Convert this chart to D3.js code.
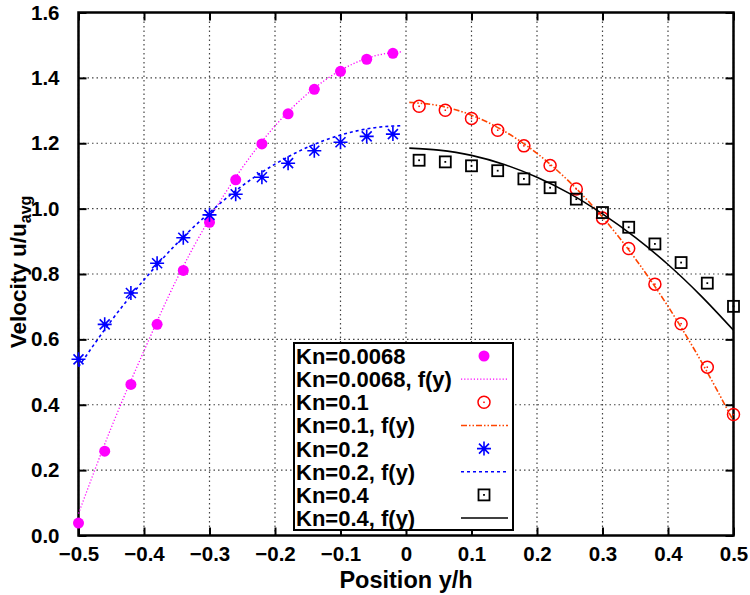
<!DOCTYPE html>
<html>
<head>
<meta charset="utf-8">
<script src="https://cdn.jsdelivr.net/npm/d3@7"></script>
<style>
  body { margin: 0; background: #fff; }
  text { font-family: "Liberation Sans", Arial, sans-serif; font-weight: bold; }
</style>
</head>
<body>
<div id="chart"></div>
<script>
// measured sample positions (y/h)
const leftPos  = [-0.50, -0.46, -0.42, -0.38, -0.34, -0.30, -0.26, -0.22, -0.18, -0.14, -0.10, -0.06, -0.02];
const rightPos = [0.02, 0.06, 0.10, 0.14, 0.18, 0.22, 0.26, 0.30, 0.34, 0.38, 0.42, 0.46, 0.50];

// measured velocities u/u_avg
const kn0068 = [0.038, 0.258, 0.462, 0.646, 0.811, 0.958, 1.088, 1.198, 1.290, 1.365, 1.420, 1.457, 1.475];
const kn02   = [0.539, 0.646, 0.742, 0.833, 0.911, 0.981, 1.044, 1.096, 1.139, 1.177, 1.203, 1.221, 1.228];
const kn01   = [1.313, 1.301, 1.276, 1.240, 1.192, 1.132, 1.060, 0.971, 0.878, 0.769, 0.648, 0.515, 0.370];
const kn04   = [1.148, 1.143, 1.131, 1.116, 1.091, 1.064, 1.029, 0.988, 0.943, 0.892, 0.835, 0.772, 0.701];

// fitted curves f(y)
const fitLeftPos  = [-0.5, -0.45, -0.4, -0.35, -0.3, -0.25, -0.2, -0.15, -0.1, -0.05, -0.005];
const fitRightPos = [0.005, 0.05, 0.1, 0.15, 0.2, 0.25, 0.3, 0.35, 0.4, 0.45, 0.5];
const fit0068 = [0.067, 0.33, 0.565, 0.784, 0.969, 1.125, 1.253, 1.352, 1.423, 1.466, 1.48];
const fit02   = [0.516, 0.657, 0.782, 0.893, 0.988, 1.07, 1.136, 1.188, 1.225, 1.247, 1.254];
const fit01   = [1.325, 1.315, 1.286, 1.237, 1.169, 1.081, 0.974, 0.847, 0.701, 0.535, 0.35];
const fit04   = [1.185, 1.179, 1.163, 1.135, 1.096, 1.046, 0.984, 0.912, 0.829, 0.734, 0.628];

const xTicks = [-0.5, -0.4, -0.3, -0.2, -0.1, 0, 0.1, 0.2, 0.3, 0.4, 0.5];
const yTicks = [0, 0.2, 0.4, 0.6, 0.8, 1.0, 1.2, 1.4, 1.6];
const legendLabels = ["Kn=0.0068", "Kn=0.0068, f(y)", "Kn=0.1", "Kn=0.1, f(y)",
                      "Kn=0.2", "Kn=0.2, f(y)", "Kn=0.4", "Kn=0.4, f(y)"];

const width = 750, height = 595;
const plotL = 78.5, plotR = 733.5, plotT = 12.5, plotB = 535.5;

const svg = d3.select("#chart").append("svg")
    .attr("width", width)
    .attr("height", height);

const x = d3.scaleLinear().domain([-0.5, 0.5]).range([plotL, plotR]);
const y = d3.scaleLinear().domain([0, 1.6]).range([plotB, plotT]);

// grid
const grid = svg.append("g").attr("stroke", "#444").attr("stroke-width", 1.2)
    .attr("stroke-dasharray", "1.5,3");
grid.selectAll(".gx").data(xTicks).enter().append("line")
    .attr("x1", d => x(d)).attr("x2", d => x(d))
    .attr("y1", plotT).attr("y2", plotB);
grid.selectAll(".gy").data(yTicks).enter().append("line")
    .attr("x1", plotL).attr("x2", plotR)
    .attr("y1", d => y(d)).attr("y2", d => y(d));

// axes (ticks pointing inward, mirrored)
const tickFmt = d => d === 0 ? "0" : d3.format(".1f")(d);
const axB = svg.append("g").attr("transform", `translate(0,${plotB})`)
    .call(d3.axisBottom(x).tickValues(xTicks).tickSizeInner(-8).tickSizeOuter(0).tickPadding(18).tickFormat(tickFmt));
const axT = svg.append("g").attr("transform", `translate(0,${plotT})`)
    .call(d3.axisTop(x).tickValues(xTicks).tickSizeInner(-8).tickSizeOuter(0).tickFormat(""));
const axL = svg.append("g").attr("transform", `translate(${plotL},0)`)
    .call(d3.axisLeft(y).tickValues(yTicks).tickSizeInner(-8).tickSizeOuter(0).tickPadding(19).tickFormat(d3.format(".1f")));
const axR = svg.append("g").attr("transform", `translate(${plotR},0)`)
    .call(d3.axisRight(y).tickValues(yTicks).tickSizeInner(-8).tickSizeOuter(0).tickFormat(""));

[axB, axT, axL, axR].forEach(a => {
    a.select(".domain").remove();
    a.selectAll(".tick line").attr("stroke", "#000").attr("stroke-width", 2);
    a.selectAll("text").attr("font-size", 20.5).attr("fill", "#000")
        .attr("font-family", "'Liberation Sans', Arial, sans-serif").attr("font-weight", "bold");
});
axB.selectAll("text").attr("dy", "0.35em");

svg.append("rect")
    .attr("x", plotL).attr("y", plotT)
    .attr("width", plotR - plotL).attr("height", plotB - plotT)
    .attr("fill", "none").attr("stroke", "#000").attr("stroke-width", 2.5);

// axis titles
svg.append("text")
    .attr("x", (plotL + plotR) / 2).attr("y", 588)
    .attr("text-anchor", "middle").attr("font-size", 23.5)
    .text("Position y/h");

const yl = svg.append("text")
    .attr("transform", "translate(26,272) rotate(-90)")
    .attr("text-anchor", "middle").attr("font-size", 22.5);
yl.append("tspan").text("Velocity u/u");
yl.append("tspan").attr("font-size", 16).attr("dy", 4.5).text("avg");

// series
const line = d3.line().x(d => x(d[0])).y(d => y(d[1])).curve(d3.curveMonotoneX);
const pairs = (xs, ys) => xs.map((v, i) => [v, ys[i]]);

const fits = [
    { pos: fitLeftPos,  vals: fit0068, color: "#ff00ff", dash: "1.2,2", w: 1.3 },
    { pos: fitRightPos, vals: fit01,   color: "#ff4500", dash: "6,2,1.5,2,1.5,2", w: 1.6 },
    { pos: fitLeftPos,  vals: fit02,   color: "#0000ff", dash: "3,3", w: 1.6 },
    { pos: fitRightPos, vals: fit04,   color: "#000000", dash: null, w: 1.6 }
];
fits.forEach(f => {
    svg.append("path")
        .datum(pairs(f.pos, f.vals))
        .attr("d", line)
        .attr("fill", "none")
        .attr("stroke", f.color)
        .attr("stroke-width", f.w)
        .attr("stroke-dasharray", f.dash);
});

// marker painters
function dotCircle(g, cx, cy) {
    g.append("circle").attr("cx", cx).attr("cy", cy).attr("r", 5.5).attr("fill", "#ff00ff");
}
function ringCircle(g, cx, cy) {
    g.append("circle").attr("cx", cx).attr("cy", cy).attr("r", 6)
        .attr("fill", "none").attr("stroke", "#ff0000").attr("stroke-width", 1.5);
    g.append("rect").attr("x", cx - 0.75).attr("y", cy - 0.75).attr("width", 1.5).attr("height", 1.5).attr("fill", "#ff0000");
}
function star(g, cx, cy) {
    const s = 7, d = 5;
    const p = `M${cx - s},${cy}L${cx + s},${cy}M${cx},${cy - s}L${cx},${cy + s}` +
              `M${cx - d},${cy - d}L${cx + d},${cy + d}M${cx - d},${cy + d}L${cx + d},${cy - d}`;
    g.append("path").attr("d", p).attr("stroke", "#0000ff").attr("stroke-width", 1.6).attr("fill", "none");
}
function box(g, cx, cy) {
    g.append("rect").attr("x", cx - 5.5).attr("y", cy - 5.5).attr("width", 11).attr("height", 11)
        .attr("fill", "none").attr("stroke", "#000").attr("stroke-width", 1.8);
    g.append("rect").attr("x", cx - 0.9).attr("y", cy - 0.9).attr("width", 1.8).attr("height", 1.8).attr("fill", "#000");
}

const marks = svg.append("g");
leftPos.forEach((p, i) => dotCircle(marks, x(p), y(kn0068[i])));
rightPos.forEach((p, i) => ringCircle(marks, x(p), y(kn01[i])));
leftPos.forEach((p, i) => star(marks, x(p), y(kn02[i])));
rightPos.forEach((p, i) => box(marks, x(p), y(kn04[i])));

// legend
const lg = svg.append("g");
lg.append("rect").attr("x", 294).attr("y", 343).attr("width", 219).attr("height", 187)
    .attr("fill", "#fff").attr("stroke", "#000").attr("stroke-width", 2);
const painters = [dotCircle, null, ringCircle, null, star, null, box, null];
legendLabels.forEach((lab, i) => {
    const cy = 356 + i * 23.15;
    lg.append("text").attr("x", 296).attr("y", cy).attr("dy", "0.36em")
        .attr("font-size", 22).text(lab);
    if (painters[i]) {
        painters[i](lg, 484, cy);
    } else {
        const f = fits[(i - 1) / 2];
        lg.append("line").attr("x1", 461).attr("x2", 508).attr("y1", cy).attr("y2", cy)
            .attr("stroke", f.color).attr("stroke-width", f.w).attr("stroke-dasharray", f.dash);
    }
});
</script>
</body>
</html>
